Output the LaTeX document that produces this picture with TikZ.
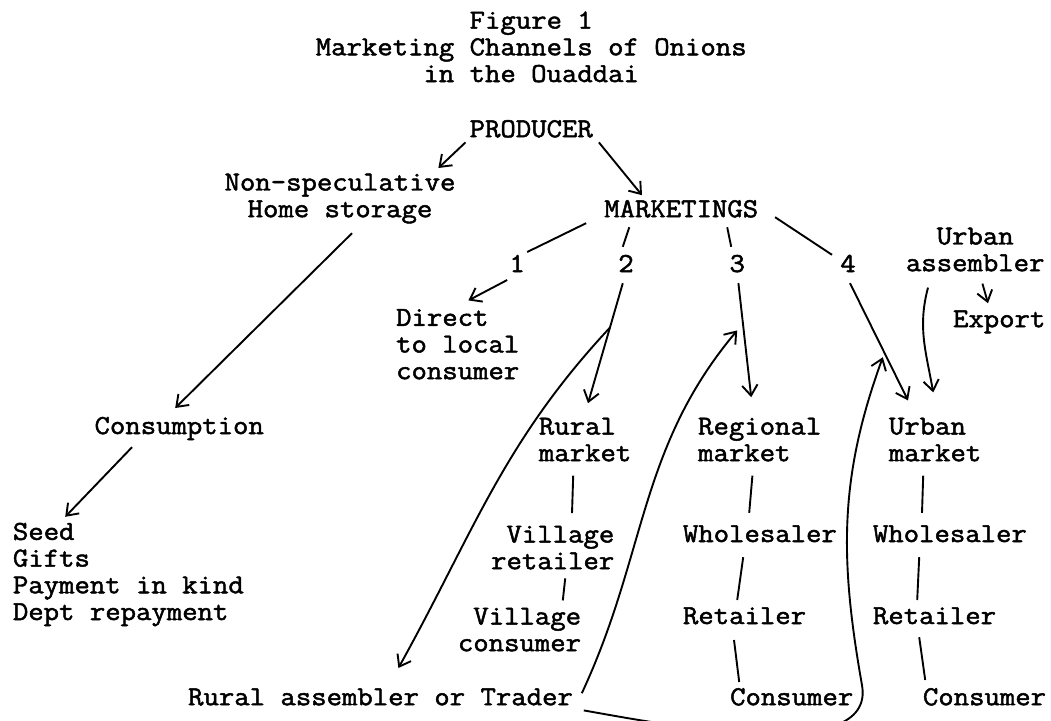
\documentclass[tikz,border=0pt]{standalone}
\usepackage{fontspec}
\setmonofont{Latin Modern Mono}[FakeBold=1.8, FakeStretch=1.09]
\usetikzlibrary{arrows.meta}
\begin{document}
\begin{tikzpicture}[>={Straight Barb[length=7.5pt,width=11pt]}, line width=1.35pt, every node/.style={inner sep=0pt, font=\ttfamily\fontsize{19.5}{19}\selectfont}]
\useasboundingbox (0,0) rectangle (26.275,-18);
\node[anchor=base, align=center] (title) at (13.28,-2.05) {Figure 1\\Marketing Channels of Onions\\in the Ouaddai};
\node[anchor=base] (producer) at (13.28,-3.43) {PRODUCER};
\node[anchor=base, align=center] (nonspec) at (8.50,-5.43) {Non-speculative\\Home storage};
\node[anchor=base] (mkt) at (17.03,-5.43) {MARKETINGS};
\node[anchor=base] (one) at (12.93,-6.80) {1};
\node[anchor=base] (two) at (15.65,-6.80) {2};
\node[anchor=base] (three) at (18.43,-6.80) {3};
\node[anchor=base] (four) at (21.20,-6.80) {4};
\node[anchor=base, align=center] (uassem) at (24.38,-6.78) {Urban\\assembler};
\node[anchor=base] (export) at (24.98,-8.18) {Export};
\node[anchor=base west, align=left] (direct) at (9.88,-9.48) {Direct\\to local\\consumer};
\node[anchor=base] (consumption) at (4.48,-10.85) {Consumption};
\node[anchor=base west, align=left] (uses) at (0.30,-15.50) {Seed\\Gifts\\Payment in kind\\Dept repayment};
\node[anchor=base west, align=left] (rural) at (13.45,-11.53) {Rural\\market};
\node[anchor=base west, align=left] (regional) at (17.43,-11.53) {Regional\\market};
\node[anchor=base west, align=left] (urban) at (22.20,-11.53) {Urban\\market};
\node[anchor=base east, align=right] (vret) at (15.38,-14.23) {Village\\retailer};
\node[anchor=base west] (whole2) at (17.05,-13.55) {Wholesaler};
\node[anchor=base west] (whole3) at (21.80,-13.55) {Wholesaler};
\node[anchor=base east, align=right] (vcons) at (14.55,-16.28) {Village\\consumer};
\node[anchor=base west] (ret2) at (17.05,-15.60) {Retailer};
\node[anchor=base west] (ret3) at (21.80,-15.60) {Retailer};
\node[anchor=base west] (cons2) at (18.23,-17.63) {Consumer};
\node[anchor=base west] (cons3) at (23.05,-17.63) {Consumer};
\node[anchor=base west] (trader) at (4.68,-17.63) {Rural assembler or Trader};
\draw[->] ([xshift=-0.08cm,yshift=-0.13cm]producer.base west) -- ([xshift=-0.45cm,yshift=1.23cm]nonspec.base east);
\draw[->] ([xshift=0.13cm,yshift=-0.13cm]producer.base east) -- ([xshift=-0.98cm,yshift=0.55cm]mkt.base);
\draw[->] ([xshift=0.3cm,yshift=-0.4cm]nonspec.base) -- ([xshift=-0.1cm,yshift=0.65cm]consumption.base);
\draw[->] ([xshift=-1.18cm,yshift=-0.33cm]consumption.base) -- ([xshift=1.33cm,yshift=2.58cm]uses.base west);
\draw ([xshift=-0.43cm,yshift=-0.15cm]mkt.base west) -- ([xshift=0.25cm,yshift=0.5cm]one.base);
\draw ([xshift=0.65cm,yshift=-0.25cm]mkt.base west) -- ([xshift=-0.08cm,yshift=0.63cm]two.base);
\draw ([xshift=1.15cm,yshift=-0.25cm]mkt.base) -- ([xshift=-0.15cm,yshift=0.63cm]three.base);
\draw ([xshift=0.4cm]mkt.base east) -- ([xshift=-0.4cm,yshift=0.43cm]four.base);
\draw[->] ([xshift=-0.25cm,yshift=-0.2cm]one.base) -- ([xshift=1.83cm,yshift=1.97cm]direct.base west);
\draw[->] ([xshift=-0.08cm,yshift=-0.28cm]two.base) -- coordinate[pos=0.37] (fork) ([xshift=1.25cm,yshift=1.45cm]rural.base west);
\draw[->] ([xshift=0.03cm,yshift=-0.28cm]three.base) -- ([xshift=1.35cm,yshift=1.6cm]regional.base west);
\draw[->] ([xshift=0.05cm,yshift=-0.28cm]four.base) -- ([xshift=0.5cm,yshift=1.52cm]urban.base west);
\draw[->] ([xshift=-1.18cm,yshift=-0.41cm]uassem.base) to[out=-105,in=100] ([xshift=1.13cm,yshift=1.72cm]urban.base west);
\draw[->] ([xshift=0.18cm,yshift=-0.31cm]uassem.base) -- ([xshift=-0.28cm,yshift=0.6cm]export.base);
\draw ([xshift=0.88cm,yshift=-0.36cm]rural.base west) -- ([xshift=-1.08cm,yshift=1.4cm]vret.base east);
\draw ([xshift=-1.25cm,yshift=-0.23cm]vret.base east) -- ([xshift=-0.48cm,yshift=1.27cm]vcons.base east);
\draw ([xshift=1.38cm,yshift=-0.36cm]regional.base west) -- ([xshift=1.68cm,yshift=0.73cm]whole2.base west);
\draw ([xshift=1.53cm,yshift=-0.38cm]whole2.base west) -- ([xshift=1.38cm,yshift=0.6cm]ret2.base west);
\draw ([xshift=1.3cm,yshift=-0.4cm]ret2.base west) -- ([xshift=0.25cm,yshift=0.58cm]cons2.base west);
\draw ([xshift=0.88cm,yshift=-0.36cm]urban.base west) -- ([xshift=1.25cm,yshift=0.73cm]whole3.base west);
\draw ([xshift=1.18cm,yshift=-0.38cm]whole3.base west) -- ([xshift=1.13cm,yshift=0.6cm]ret3.base west);
\draw ([xshift=1.18cm,yshift=-0.33cm]ret3.base west) -- ([xshift=0.08cm,yshift=0.63cm]cons3.base west);
\draw[->] (fork) to[out=-133,in=61] ([xshift=5.28cm,yshift=0.93cm]trader.base west);
\draw[->] ([xshift=0.2cm,yshift=0.3cm]trader.base east) to[out=65,in=-130] ([xshift=1.0cm,yshift=3.27cm]regional.base west);
\draw[->] ([xshift=0.25cm,yshift=-0.13cm]trader.base east) to[out=-10,in=-80,looseness=0.75] (21.55,-17.13) to[out=100,in=-110] ([xshift=-0.13cm,yshift=2.6cm]urban.base west);
\end{tikzpicture}
\end{document}
